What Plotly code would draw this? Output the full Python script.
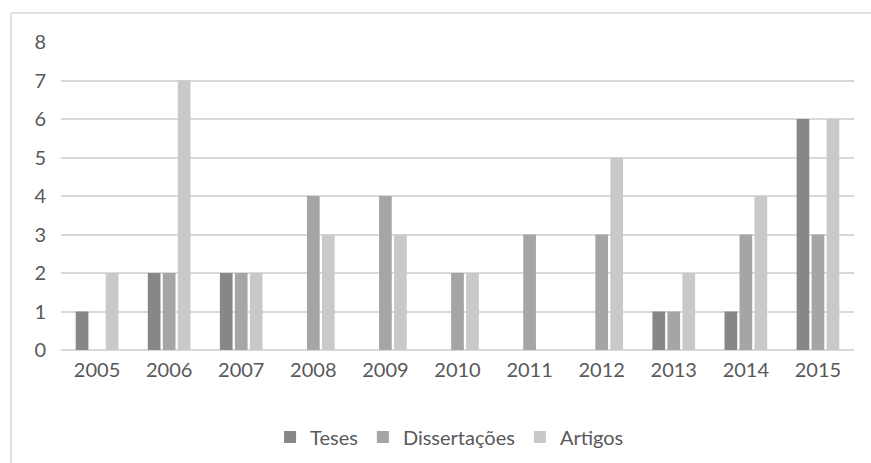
import plotly.graph_objects as go

anos = ["2005", "2006", "2007", "2008", "2009", "2010", "2011", "2012", "2013", "2014", "2015"]
teses = [1, 2, 2, 0, 0, 0, 0, 0, 1, 1, 6]
dissertacoes = [0, 2, 2, 4, 4, 2, 3, 3, 1, 3, 3]
artigos = [2, 7, 2, 3, 3, 2, 0, 5, 2, 4, 6]

W, H = 871, 463
L, R, T, B = 61, 17, 42, 113
pw, ph = W - L - R, H - T - B

fig = go.Figure()
for nome, vals, cor in [("Teses", teses, "#878787"),
                        ("Dissertações", dissertacoes, "#a5a5a5"),
                        ("Artigos", artigos, "#c9c9c9")]:
    fig.add_trace(go.Bar(x=anos, y=vals, name=nome, marker=dict(color=cor, line_width=0)))

font = dict(family="Lato, 'Open Sans', sans-serif", size=20, color="#595959")

fig.update_layout(
    width=W, height=H,
    margin=dict(l=L, r=R, t=T, b=B, autoexpand=False),
    paper_bgcolor="white", plot_bgcolor="white",
    barmode="group", bargap=0.376, bargroupgap=0.153,
    font=font,
    showlegend=True,
    legend=dict(orientation="h", x=0.49, xanchor="center",
                yref="container", y=1 - 437 / H, yanchor="middle",
                font=font, itemwidth=30, traceorder="normal"),
    xaxis=dict(type="category", showgrid=False, showline=False, ticks="",
               tickfont=font, ticklabelstandoff=6, automargin=False),
    yaxis=dict(range=[0, 8], dtick=1, showgrid=True, gridcolor="#d9d9d9", gridwidth=1.5,
               zeroline=True, zerolinecolor="#d9d9d9", zerolinewidth=1.5,
               showline=False, ticks="", tickfont=font, ticklabelstandoff=14,
               automargin=False),
)

# outer chart frame (top and left edges visible)
x0 = (11 - L) / pw
y_top = 1 + (T - 13) / ph
fig.add_shape(type="line", xref="paper", yref="paper", x0=x0, x1=(W + 5 - L) / pw,
              y0=y_top, y1=y_top, line=dict(color="#d9d9d9", width=1.5))
fig.add_shape(type="line", xref="paper", yref="paper", x0=x0, x1=x0,
              y0=y_top, y1=-(B + 5) / ph, line=dict(color="#d9d9d9", width=1.5))

fig.write_html("out.html")
